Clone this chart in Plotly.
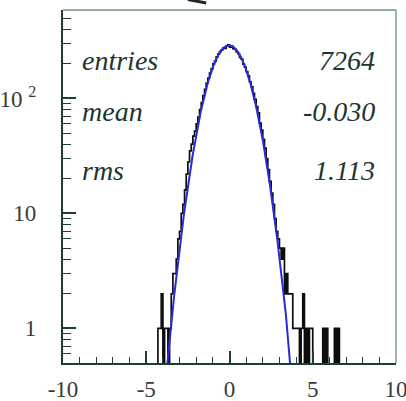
import numpy as np
import plotly.graph_objects as go

# Histogram: 0.1-wide bins on [-10, 10]; the counts below start at the bin edge -4.5,
# every other bin is empty.
bin_width = 0.1
x_range = [-10.0, 10.0]
first_edge = -4.5
counts = [
    0, 0, 1, 1, 2, 0, 1, 1, 0, 1,            # -4.5 .. -3.6
    2, 3, 3, 4, 6, 7, 10, 12, 16, 22,        # -3.5 .. -2.6
    28, 35, 40, 47, 52, 60, 69, 80, 92, 106,  # -2.5 .. -1.6
    120, 136, 150, 166, 182, 200, 211, 230, 243, 255,  # -1.5 .. -0.6
    264, 276, 273, 286, 292, 280, 285, 271, 267, 254,  # -0.5 .. 0.4
    245, 228, 220, 199, 187, 171, 157, 139, 127, 111,  # 0.5 .. 1.4
    98, 85, 75, 61, 53, 44, 37, 30, 24, 19,  # 1.5 .. 2.4
    15, 12, 9, 7, 6, 5, 4, 5, 2, 3,          # 2.5 .. 3.4
    2, 2, 2, 1, 1, 1, 1, 0, 1, 2,            # 3.5 .. 4.4
    0, 1, 0, 1, 1, 0, 0, 0, 0, 0,            # 4.5 .. 5.4
    0, 1, 0, 1, 0, 0, 0, 0, 1, 0,            # 5.5 .. 6.4
    1, 0,                                    # 6.5 .. 6.6
]

# Gaussian fit parameters
fit_amplitude = 290.0
fit_mean = -0.03
fit_sigma = 1.04

# Statistics box
stat_names = ["entries", "mean", "rms"]
stat_values = ["7264", "-0.030", "1.113"]

# Axis ticks
x_tickvals = [-10, -5, 0, 5, 10]
x_ticktext = ["-10", "-5", "0", "5", "10"]
x_minorvals = [-9, -8, -7, -6, -4, -3, -2, -1, 1, 2, 3, 4, 6, 7, 8, 9]
y_tickvals = [1, 10, 100]
y_ticktext = ["1", "10", "10 <sup>2</sup>"]
y_minorvals = [0.6, 0.7, 0.8, 0.9, 2, 3, 4, 5, 6, 7, 8, 9,
               20, 30, 40, 50, 60, 70, 80, 90, 200, 300, 400, 500]
y_min, y_max = 0.5, 588.0

AXIS = "#1f3d35"
FRAME = "#6f8f85"
TEXT = "#22352f"
LABEL = "#3a3a3a"
SERIF = "Liberation Serif"

# Full bin array over the axis range
n_bins = int(round((x_range[1] - x_range[0]) / bin_width))
full = np.zeros(n_bins)
start = int(round((first_edge - x_range[0]) / bin_width))
full[start:start + len(counts)] = counts
edges = x_range[0] + bin_width * np.arange(n_bins + 1)

# Empty bins are drawn below the visible log range so the outline drops to the axis
draw_vals = np.where(full > 0, full, 0.05)
step_x = edges
step_y = np.append(draw_vals, draw_vals[-1])

fit_x = np.linspace(-5, 5, 801)
fit_y = fit_amplitude * np.exp(-0.5 * ((fit_x - fit_mean) / fit_sigma) ** 2)

fig = go.Figure()
fig.add_trace(go.Scatter(
    x=step_x, y=step_y, mode="lines", line=dict(shape="hv", color="#0d0d0d", width=1.7),
    hoverinfo="skip",
))
fig.add_trace(go.Scatter(
    x=fit_x, y=fit_y, mode="lines", line=dict(color="#2a2ad8", width=2),
    hoverinfo="skip",
))

tick_font = dict(family=SERIF, size=23, color=LABEL)

fig.update_layout(
    width=406, height=401,
    margin=dict(l=63, r=10, t=10, b=38, autoexpand=False),
    paper_bgcolor="white", plot_bgcolor="white",
    showlegend=False,
    xaxis=dict(
        range=x_range, showgrid=False, zeroline=False, automargin=False,
        showline=True, linecolor=AXIS, linewidth=2.2,
        ticks="inside", ticklen=12, tickwidth=1.6, tickcolor=AXIS,
        tickvals=x_tickvals, ticktext=x_ticktext, tickfont=tick_font,
        ticklabelstandoff=4, ticklabeloverflow="allow",
        minor=dict(tickvals=x_minorvals, ticks="inside", ticklen=6,
                   tickwidth=1.3, tickcolor=AXIS, showgrid=False),
    ),
    yaxis=dict(
        type="log", range=[np.log10(y_min), np.log10(y_max)],
        showgrid=False, zeroline=False, automargin=False,
        showline=True, linecolor=AXIS, linewidth=2.2,
        ticks="inside", ticklen=13, tickwidth=1.6, tickcolor=AXIS,
        tickvals=y_tickvals, ticktext=y_ticktext, tickfont=tick_font,
        ticklabelstandoff=20, ticklabeloverflow="allow",
        minor=dict(tickvals=y_minorvals, ticks="inside", ticklen=8,
                   tickwidth=1.3, tickcolor=AXIS, showgrid=False),
    ),
)

# Upper and right frame edges
fig.add_shape(type="line", xref="paper", yref="paper", x0=0, x1=1, y0=1, y1=1,
              line=dict(color=FRAME, width=1.3))
fig.add_shape(type="line", xref="paper", yref="paper", x0=1, x1=1, y0=0, y1=1,
              line=dict(color=FRAME, width=1.3))
# Stroke entering from above the frame
fig.add_shape(type="line", xref="paper", yref="paper", x0=0.375, x1=0.43, y0=1.03, y1=1.02,
              line=dict(color="#1a2a25", width=3))

# Statistics text
stat_y = [0.858, 0.712, 0.545]
for name, val, yy in zip(stat_names, stat_values, stat_y):
    fig.add_annotation(text=name, xref="paper", yref="paper", x=0.051, y=yy,
                       xanchor="left", yanchor="middle", showarrow=False,
                       font=dict(family=SERIF, size=28, color=TEXT, style="italic"))
    fig.add_annotation(text=val, xref="paper", yref="paper", x=0.943, y=yy,
                       xanchor="right", yanchor="middle", showarrow=False,
                       font=dict(family=SERIF, size=28, color=TEXT, style="italic"))

fig.write_html("out.html")
